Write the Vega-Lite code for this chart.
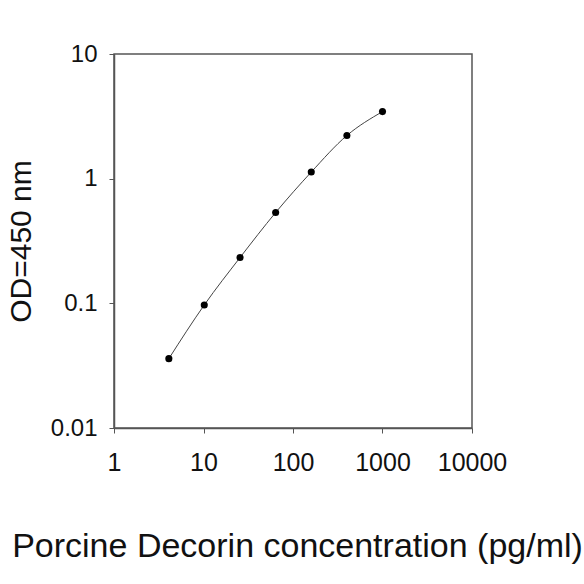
{
  "$schema": "https://vega.github.io/schema/vega-lite/v6.json",
  "width": 358,
  "height": 374,
  "autosize": "none",
  "padding": {"left": 114, "top": 54, "right": 112, "bottom": 156},
  "background": "white",
  "config": {
    "font": "Liberation Sans",
    "view": {"stroke": "#555555", "strokeWidth": 1.5},
    "axis": {
      "domainColor": "#555555",
      "domainWidth": 1.5,
      "tickColor": "#555555",
      "tickSize": 5,
      "grid": false,
      "labelColor": "#111111",
      "titleColor": "#111111",
      "labelFontSize": 24,
      "labelOverlap": false,
      "labelBound": false,
      "labelFlush": false,
      "titleFontWeight": "normal"
    }
  },
  "data": {
    "values": [
      {"conc": 4.1, "od": 0.036},
      {"conc": 10.2, "od": 0.097},
      {"conc": 25.6, "od": 0.233},
      {"conc": 64, "od": 0.535},
      {"conc": 160, "od": 1.13},
      {"conc": 400, "od": 2.22},
      {"conc": 1000, "od": 3.45}
    ]
  },
  "encoding": {
    "x": {
      "field": "conc",
      "type": "quantitative",
      "title": "Porcine Decorin concentration (pg/ml)",
      "scale": {"type": "log", "domain": [1, 10000], "nice": false},
      "axis": {
        "values": [1, 10, 100, 1000, 10000],
        "format": "~g",
        "labelFontSize": 25,
        "labelPadding": 17,
        "titleFontSize": 34,
        "titleX": 183,
        "titleY": 128,
        "titleAlign": "center",
        "titleBaseline": "alphabetic"
      }
    },
    "y": {
      "field": "od",
      "type": "quantitative",
      "title": "OD=450 nm",
      "scale": {"type": "log", "domain": [0.01, 10], "nice": false},
      "axis": {
        "values": [0.01, 0.1, 1, 10],
        "format": "~g",
        "labelPadding": 12,
        "titleFontSize": 30,
        "titleX": -84,
        "titleY": 187,
        "titleAngle": -90,
        "titleAlign": "center",
        "titleBaseline": "alphabetic"
      }
    }
  },
  "layer": [
    {
      "mark": {"type": "line", "color": "#444444", "strokeWidth": 1, "interpolate": "monotone"}
    },
    {
      "mark": {"type": "circle", "color": "black", "opacity": 1, "size": 50}
    }
  ]
}
